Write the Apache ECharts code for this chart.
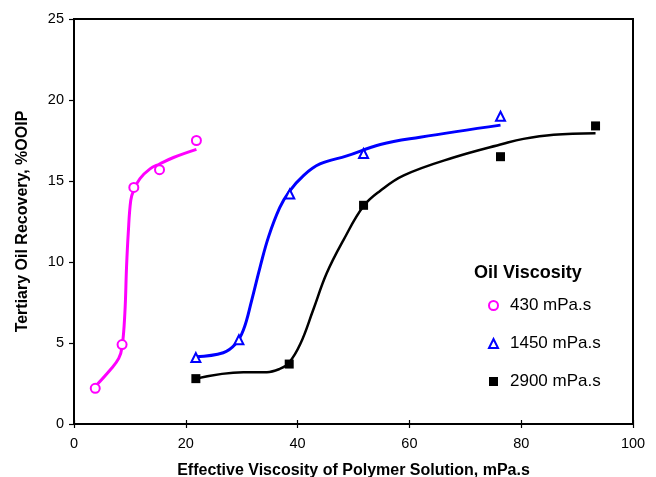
<!DOCTYPE html>
<html>
<head>
<meta charset="utf-8">
<script src="https://cdn.jsdelivr.net/npm/echarts@6/dist/echarts.min.js"></script>
<style>
html,body{margin:0;padding:0;background:#fff;}
#chart{width:656px;height:477px;}
</style>
</head>
<body>
<div id="chart"></div>
<script>
// Measured points: [effective viscosity mPa.s, tertiary recovery %OOIP]
var pts430 = [[3.8, 2.2], [8.6, 4.9], [10.7, 14.6], [15.3, 15.7], [21.9, 17.5]];
var pts1450 = [[21.8, 4.1], [29.5, 5.2], [38.6, 14.2], [51.8, 16.7], [76.3, 19.0]];
var pts2900 = [[21.8, 2.8], [38.5, 3.7], [51.8, 13.5], [76.3, 16.5], [93.3, 18.4]];

// Hand-fitted trend curves through each data set
var fit430 = [[3.75, 2.3], [6.5, 3.35], [8.0, 4.05], [8.6, 4.75], [9.1, 6.85], [9.4, 9.7],
  [9.7, 11.75], [10.15, 13.8], [10.7, 14.45], [11.8, 15.15], [13.6, 15.75], [15.3, 16.05],
  [17.8, 16.45], [21.9, 16.95]];
var fit1450 = [[21.8, 4.15], [26.7, 4.4], [28.8, 4.9], [30.3, 5.8], [31.8, 7.65],
  [33.3, 9.7], [34.8, 11.55], [36.8, 13.35], [38.5, 14.35], [41.1, 15.35], [44.0, 16.05],
  [48.8, 16.55], [54.8, 17.25], [61.9, 17.7], [76.3, 18.45]];
var fit2900 = [[21.8, 2.8], [30.3, 3.2], [34.5, 3.2], [36.8, 3.4], [38.4, 3.75],
  [40.5, 4.95], [42.8, 7.05], [45.2, 9.3], [48.2, 11.35], [51.8, 13.45], [54.8, 14.4],
  [59.0, 15.35], [67.9, 16.45], [76.8, 17.3], [80.4, 17.6], [85.8, 17.85], [93.3, 17.95]];

var names = ['430 mPa.s', '1450 mPa.s', '2900 mPa.s'];
var xTicks = [0, 20, 40, 60, 80, 100];
var yTicks = [0, 5, 10, 15, 20, 25];

var font = 'Liberation Sans, Arial, sans-serif';
var chart = echarts.init(document.getElementById('chart'));

function curve(data, color, width) {
  return {
    type: 'line', data: data, smooth: 0.4, symbol: 'none',
    lineStyle: { color: color, width: width }, silent: true, z: 2
  };
}
function marks(name, data, symbol, color, size) {
  return {
    type: 'scatter', name: name, data: data, symbol: symbol, symbolSize: size,
    itemStyle: { color: color, borderWidth: 1.2, opacity: 1 }, z: 3
  };
}

chart.setOption({
  animation: false,
  backgroundColor: '#fff',
  grid: { left: 74, right: 23, top: 19, bottom: 53, show: true,
    outerBoundsMode: 'none', containLabel: false,
    borderColor: '#000', borderWidth: 2 },
  xAxis: [{
    type: 'value', min: xTicks[0], max: xTicks[xTicks.length - 1], interval: 20,
    name: 'Effective Viscosity of Polymer Solution, mPa.s',
    nameLocation: 'middle', nameGap: 39,
    nameTextStyle: { fontFamily: font, fontWeight: 'bold', fontSize: 16, color: '#000' },
    axisLine: { lineStyle: { color: '#000', width: 2 } },
    axisTick: { show: true, length: 4, lineStyle: { color: '#000', width: 1.2 } },
    axisLabel: { fontFamily: font, fontSize: 14.5, color: '#000', margin: 12 },
    splitLine: { show: false }
  }, {
    type: 'value', min: xTicks[0], max: xTicks[xTicks.length - 1], interval: 20,
    position: 'bottom',
    axisLine: { show: false },
    axisTick: { show: true, inside: true, length: 4, lineStyle: { color: '#000', width: 1.2 } },
    axisLabel: { show: false }, splitLine: { show: false }
  }],
  yAxis: {
    type: 'value', min: yTicks[0], max: yTicks[yTicks.length - 1], interval: 5,
    name: 'Tertiary Oil Recovery, %OOIP',
    nameLocation: 'middle', nameGap: 43,
    nameTextStyle: { fontFamily: font, fontWeight: 'bold', fontSize: 16, color: '#000' },
    axisLine: { show: true, lineStyle: { color: '#000', width: 2 } },
    axisTick: { show: true, length: 5, lineStyle: { color: '#000', width: 1.2 } },
    axisLabel: { fontFamily: font, fontSize: 14.5, color: '#000', margin: 10 },
    splitLine: { show: false }
  },
  legend: {
    data: names, orient: 'vertical', left: 483, top: 292, itemGap: 21,
    itemWidth: 9, itemHeight: 9,
    textStyle: { fontFamily: font, fontSize: 17, color: '#000', padding: [0, 0, 0, 7] }
  },
  graphic: [{
    type: 'text', left: 474, top: 264,
    style: { text: 'Oil Viscosity', font: 'bold 18px ' + font, fill: '#000' }
  }],
  series: [
    curve(fit430, '#ff00ff', 3),
    curve(fit1450, '#0000ff', 3),
    curve(fit2900, '#000000', 2.5),
    marks(names[0], pts430, 'emptyCircle', '#ff00ff', 9),
    marks(names[1], pts1450, 'emptyTriangle', '#0000ff', 9),
    marks(names[2], pts2900, 'rect', '#000000', 9)
  ]
});
</script>
</body>
</html>
